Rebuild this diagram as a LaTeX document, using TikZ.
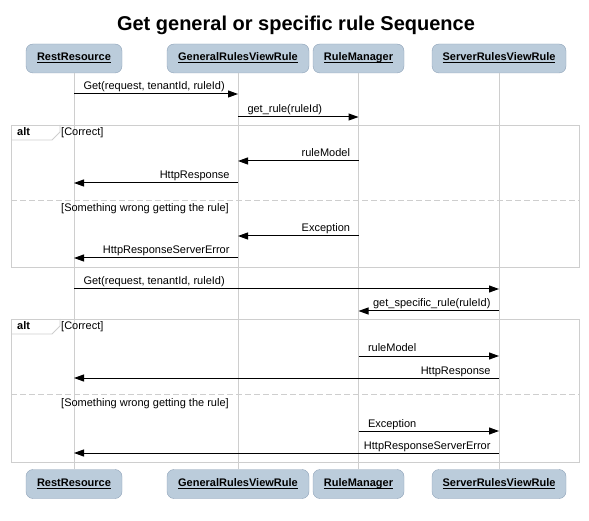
\documentclass[tikz,border=0pt]{standalone}
\usepackage{fontspec}
\setmainfont{Liberation Sans}
\usetikzlibrary{arrows.meta}
\usetikzlibrary{positioning}

\definecolor{headfill}{RGB}{187,204,219}
\definecolor{headline}{RGB}{142,162,184}
\definecolor{framegray}{RGB}{206,206,206}

\newcommand{\headname}[1]{\setbox0\hbox{#1}\rlap{\copy0}\rule[-2.2pt]{\wd0}{0.8pt}}

\tikzset{
  head/.style={draw=headline, fill=headfill, rounded corners=7pt, minimum height=29pt,
    inner sep=0pt, text height=8pt, text depth=3pt, font=\fontsize{11}{13}\selectfont\bfseries},
  life/.style={draw=framegray, line width=0.9pt},
  msg/.style={-{Triangle[length=10pt,width=7pt]}, line width=1pt},
  rlbl/.style={font=\fontsize{11}{13}\selectfont, inner sep=0pt, anchor=base west, xshift=9pt, yshift=4pt},
  llbl/.style={font=\fontsize{11}{13}\selectfont, inner sep=0pt, anchor=base east, xshift=-8pt, yshift=4pt},
  altframe/.style={draw=framegray, line width=0.9pt},
  altsep/.style={draw=framegray, line width=0.9pt, dash pattern=on 6pt off 3pt},
  guard/.style={font=\fontsize{11}{13}\selectfont, anchor=base west, inner sep=0pt},
  altname/.style={font=\fontsize{11}{13}\selectfont\bfseries, anchor=base west, inner sep=0pt}
}

\begin{document}
\begin{tikzpicture}[x=1pt,y=-1pt]
  \useasboundingbox (0,0) rectangle (589,521);

  \node[font=\fontsize{20}{24}\selectfont\bfseries, anchor=base, inner sep=0pt] (title)
    at (296,31) {Get general or specific rule Sequence};

  \node[head, minimum width=96pt]  (rrTop) at (74,58.5)  {\headname{RestResource}};
  \node[head, minimum width=142pt] (grTop) at (238,58.5) {\headname{GeneralRulesViewRule}};
  \node[head, minimum width=91pt]  (rmTop) at (358.5,58.5) {\headname{RuleManager}};
  \node[head, minimum width=134pt] (srTop) at (499,58.5) {\headname{ServerRulesViewRule}};

  \node[head, minimum width=96pt]  (rrBot) at (74,484)  {\headname{RestResource}};
  \node[head, minimum width=142pt] (grBot) at (238,484) {\headname{GeneralRulesViewRule}};
  \node[head, minimum width=91pt]  (rmBot) at (358.5,484) {\headname{RuleManager}};
  \node[head, minimum width=134pt] (srBot) at (499,484) {\headname{ServerRulesViewRule}};

  \draw[life] (rrTop) -- (rrBot);
  \draw[life] (grTop) -- (grBot);
  \draw[life] (rmTop) -- (rmBot);
  \draw[life] (srTop) -- (srBot);

  \draw[altframe] (11,125) rectangle (579,267);
  \draw[altframe] (11,140) -- (52,140) -- (60,132) -- (60,125);
  \node[altname] (alt1) at (17,136) {alt};
  \node[guard] (g1a) at (61,136) {[Correct]};
  \draw[altsep] (11,200) -- (579,200);
  \node[guard] (g1b) at (61,212) {[Something wrong getting the rule]};

  \draw[altframe] (11,319) rectangle (579,462);
  \draw[altframe] (11,334) -- (52,334) -- (60,326) -- (60,319);
  \node[altname] (alt2) at (17,330) {alt};
  \node[guard] (g2a) at (61,330) {[Correct]};
  \draw[altsep] (11,394) -- (579,394);
  \node[guard] (g2b) at (61,406) {[Something wrong getting the rule]};

  \draw[msg] (rrTop |- 0,94) -- (grTop |- 0,94) node[rlbl, pos=0] {Get(request, tenantId, ruleId)};
  \draw[msg] (grTop |- 0,117) -- (rmTop |- 0,117) node[rlbl, pos=0] {get\_rule(ruleId)};
  \draw[msg] (rmTop |- 0,161) -- (grTop |- 0,161) node[llbl, pos=0] {ruleModel};
  \draw[msg] (grTop |- 0,183) -- (rrTop |- 0,183) node[llbl, pos=0] {HttpResponse};
  \draw[msg] (rmTop |- 0,236) -- (grTop |- 0,236) node[llbl, pos=0] {Exception};
  \draw[msg] (grTop |- 0,258) -- (rrTop |- 0,258) node[llbl, pos=0] {HttpResponseServerError};
  \draw[msg] (rrTop |- 0,289) -- (srTop |- 0,289) node[rlbl, pos=0] {Get(request, tenantId, ruleId)};
  \draw[msg] (srTop |- 0,311) -- (rmTop |- 0,311) node[llbl, pos=0] {get\_specific\_rule(ruleId)};
  \draw[msg] (rmTop |- 0,356) -- (srTop |- 0,356) node[rlbl, pos=0] {ruleModel};
  \draw[msg] (srTop |- 0,378) -- (rrTop |- 0,378) node[llbl, pos=0] {HttpResponse};
  \draw[msg] (rmTop |- 0,431) -- (srTop |- 0,431) node[rlbl, pos=0] {Exception};
  \draw[msg] (srTop |- 0,453) -- (rrTop |- 0,453) node[llbl, pos=0] {HttpResponseServerError};
\end{tikzpicture}
\end{document}
